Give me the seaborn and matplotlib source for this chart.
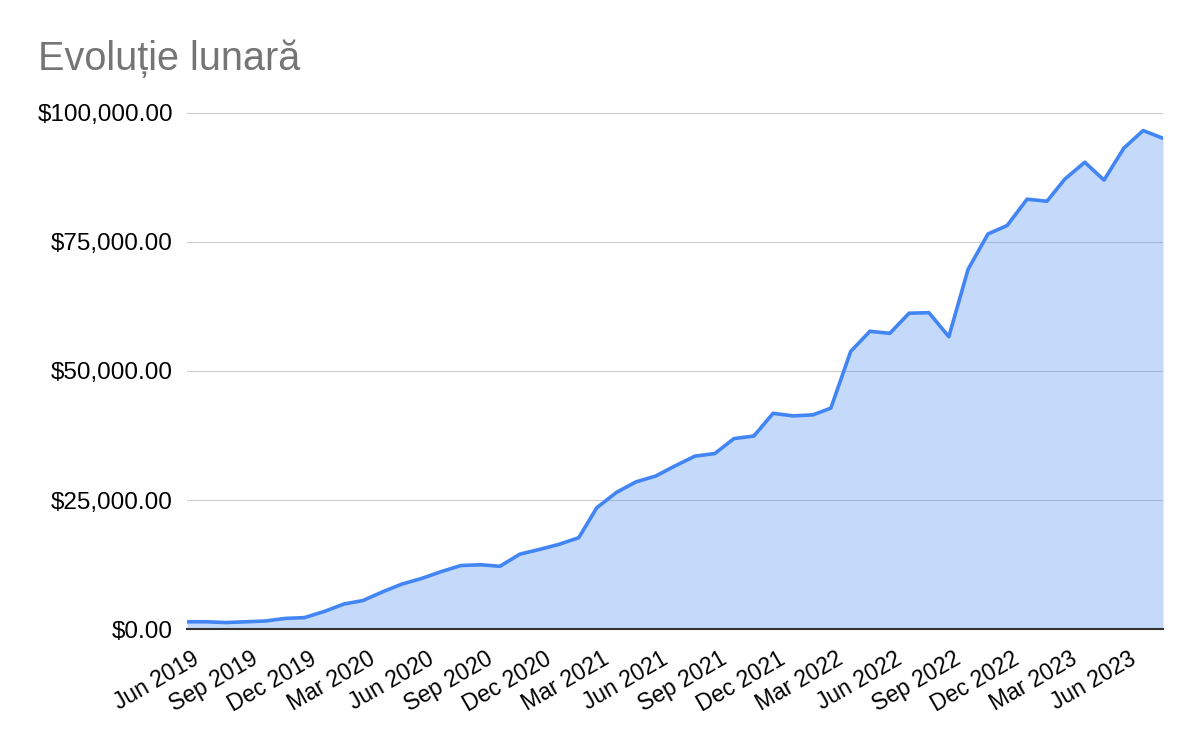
import pandas as pd
import numpy as np

# visualization
import matplotlib.pyplot as plt
import matplotlib.transforms as mtransforms
from matplotlib.ticker import FuncFormatter
import seaborn as sns

# monthly values, Jun 2019 .. Aug 2023
months = pd.date_range("2019-06-01", periods=51, freq="MS")
values = [1400, 1400, 1250, 1400, 1550, 2050, 2200, 3400, 4850, 5500,
          7200, 8700, 9800, 11100, 12300, 12450, 12150, 14500, 15400, 16400,
          17700, 23500, 26500, 28500, 29650, 31600, 33500, 34000, 36900, 37400,
          41800, 41300, 41500, 42800, 53800, 57700, 57300, 61200, 61300, 56650,
          69700, 76550, 78200, 83300, 82900, 87200, 90450, 87000, 93200, 96600,
          95100]
y_ticks = [0, 25000, 50000, 75000, 100000]
title = "Evoluție lunară"

df = pd.DataFrame({"month": months, "value": values})

sns.set_style("white")
plt.rcParams["font.family"] = ["Liberation Sans", "DejaVu Sans"]

fig = plt.figure(figsize=(12, 7.42), dpi=100)
ax = fig.add_axes([187 / 1200, 113 / 742, 976 / 1200, 516 / 742])

ax.fill_between(df["month"], df["value"], color="#4285F4", alpha=0.3, linewidth=0, zorder=1)
sns.lineplot(data=df, x="month", y="value", ax=ax, color="#4285F4", linewidth=2.6, zorder=2)

ax.set_xlim(df["month"].iloc[0], df["month"].iloc[-1])
ax.set_ylim(0, 100000)
ax.set_yticks(y_ticks)
ax.yaxis.set_major_formatter(FuncFormatter(lambda v, p: f"${v:,.2f}"))
ax.set_axisbelow(True)
ax.grid(axis="y", color="#cccccc", linewidth=0.8)
ax.grid(axis="x", visible=False)

tick_months = df["month"].iloc[::3]
ax.set_xticks(tick_months)
ax.set_xticklabels([m.strftime("%b %Y") for m in tick_months], rotation=30, ha="right")
ax.tick_params(axis="both", length=0, colors="#000000")
ax.tick_params(axis="x", pad=13, labelsize=16.5)
ax.tick_params(axis="y", pad=10, labelsize=17.5)
offset = mtransforms.ScaledTranslation(16 / 100, 0, fig.dpi_scale_trans)
for lab in ax.get_xticklabels():
    lab.set_transform(lab.get_transform() + offset)

ax.set_xlabel("")
ax.set_ylabel("")
for side in ["top", "right", "left"]:
    ax.spines[side].set_visible(False)
ax.spines["bottom"].set_color("#333333")
ax.spines["bottom"].set_linewidth(1.5)
ax.spines["bottom"].set_zorder(3)

fig.text(38 / 1200, 1 - 70 / 742, title, fontsize=28.5, color="#757575", va="baseline", ha="left")

fig.savefig("out.png", dpi=100)
